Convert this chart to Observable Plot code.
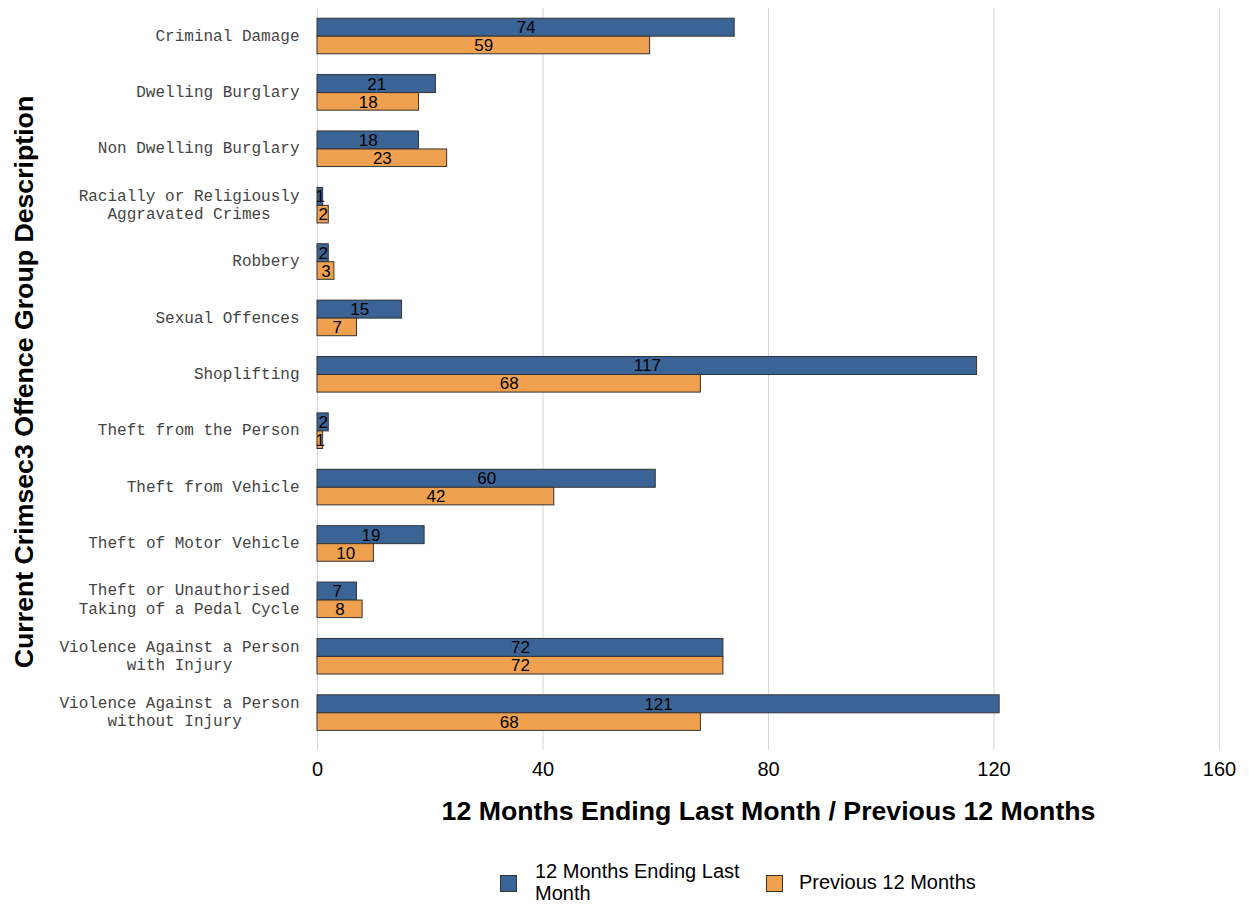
<!DOCTYPE html>
<html>
<head>
<meta charset="utf-8">
<script src="https://cdn.jsdelivr.net/npm/d3@7"></script>
<script src="https://cdn.jsdelivr.net/npm/@observablehq/plot@0.6"></script>
<style>
  body { margin: 0; background: #fff; font-family: "Liberation Sans", Arial, sans-serif; }
  #legend { display: flex; align-items: center; padding-left: 500px; height: 48px; font-size: 20px; color: #000; }
  .item { display: flex; align-items: center; }
  .sw { width: 17px; height: 17px; border: 1px solid #333; box-sizing: border-box; margin-right: 18px; margin-top: 2px; }
  .lbl { line-height: 22px; }
</style>
</head>
<body>
<div id="chart"></div>
<div id="legend"></div>
<script>
const categories = [
  "Criminal Damage",
  "Dwelling Burglary",
  "Non Dwelling Burglary",
  "Racially or Religiously Aggravated Crimes",
  "Robbery",
  "Sexual Offences",
  "Shoplifting",
  "Theft from the Person",
  "Theft from Vehicle",
  "Theft of Motor Vehicle",
  "Theft or Unauthorised Taking of a Pedal Cycle",
  "Violence Against a Person with Injury",
  "Violence Against a Person without Injury"
];
const tickLabels = [
  ["Criminal Damage"],
  ["Dwelling Burglary"],
  ["Non Dwelling Burglary"],
  ["Racially or Religiously", "Aggravated Crimes"],
  ["Robbery"],
  ["Sexual Offences"],
  ["Shoplifting"],
  ["Theft from the Person"],
  ["Theft from Vehicle"],
  ["Theft of Motor Vehicle"],
  ["Theft or Unauthorised", "Taking of a Pedal Cycle"],
  ["Violence Against a Person", "with Injury"],
  ["Violence Against a Person", "without Injury"]
];
const last12 = [74, 21, 18, 1, 2, 15, 117, 2, 60, 19, 7, 72, 121];
const prev12 = [59, 18, 23, 2, 3, 7, 68, 1, 42, 10, 8, 72, 68];
const seriesNames = ["12 Months Ending Last Month", "Previous 12 Months"];
const seriesColors = ["#3b6496", "#efa150"];
const xTicks = [0, 40, 80, 120, 160];
const xTitle = "12 Months Ending Last Month / Previous 12 Months";
const yTitle = "Current Crimsec3 Offence Group Description";

const table = categories.map((c, i) => ({cat: c, cur: last12[i], prev: prev12[i]}));

// centre each wrapped line under the longest one (monospace font)
const labelMap = new Map(categories.map((c, i) => {
  const lines = tickLabels[i];
  const m = Math.max(...lines.map(l => l.length));
  return [c, lines.map(l => l + "\u00A0".repeat(Math.round((m - l.length) / 2))).join("\n")];
}));

const H = 858;
const chart = Plot.plot({
  width: 1249,
  height: H,
  marginTop: 8,
  marginBottom: H - 741,
  marginLeft: 317,
  marginRight: 30,
  style: {fontFamily: "'Liberation Sans', Arial, sans-serif", background: "#fff"},
  x: {domain: [0, 160], ticks: xTicks},
  y: {domain: categories, type: "band", padding: 0, round: false},
  marks: [
    Plot.gridX(xTicks, {stroke: "#d3d3e3", strokeOpacity: 1, insetBottom: -9}),
    Plot.axisX(xTicks, {tickSize: 0, tickPadding: 20, fontSize: 20, fill: "#000", label: null}),
    Plot.axisY({tickSize: 0, tickPadding: 18, dy: -2, fontFamily: "'Liberation Mono', 'Courier New', monospace",
      fontSize: 16, fill: "#444", lineHeight: 1.15, tickFormat: d => labelMap.get(d), label: null}),
    Plot.barX(table, {x: "cur", y: "cat", fill: seriesColors[0], stroke: "#333", strokeWidth: 1, insetTop: 10.2, insetBottom: 28.2}),
    Plot.barX(table, {x: "prev", y: "cat", fill: seriesColors[1], stroke: "#333", strokeWidth: 1, insetTop: 28.2, insetBottom: 10.6}),
    Plot.text(table, {x: d => d.cur / 2, y: "cat", text: "cur", dy: -9, fontSize: 17, fill: "#000"}),
    Plot.text(table, {x: d => d.prev / 2, y: "cat", text: "prev", dy: 9, fontSize: 17, fill: "#000"}),
    Plot.text([xTitle], {text: d => d, frameAnchor: "bottom", lineAnchor: "middle", dy: 70, fontSize: 26.7, fontWeight: "bold", fill: "#000"}),
    Plot.text([yTitle], {text: d => d, frameAnchor: "left", textAnchor: "middle", lineAnchor: "middle", rotate: -90, dx: -293, dy: 7, fontSize: 26.7, fontWeight: "bold", fill: "#000"})
  ]
});
document.getElementById("chart").appendChild(chart);

const legend = document.getElementById("legend");
seriesNames.forEach((name, i) => {
  const item = document.createElement("div");
  item.className = "item";
  item.style.marginRight = i === 0 ? "9px" : "0";
  const sw = document.createElement("div");
  sw.className = "sw";
  sw.style.background = seriesColors[i];
  if (i === 1) sw.style.marginRight = "16px";
  const lbl = document.createElement("div");
  lbl.className = "lbl";
  lbl.textContent = name;
  if (i === 0) lbl.style.width = "222px";
  item.appendChild(sw);
  item.appendChild(lbl);
  legend.appendChild(item);
});
</script>
</body>
</html>
